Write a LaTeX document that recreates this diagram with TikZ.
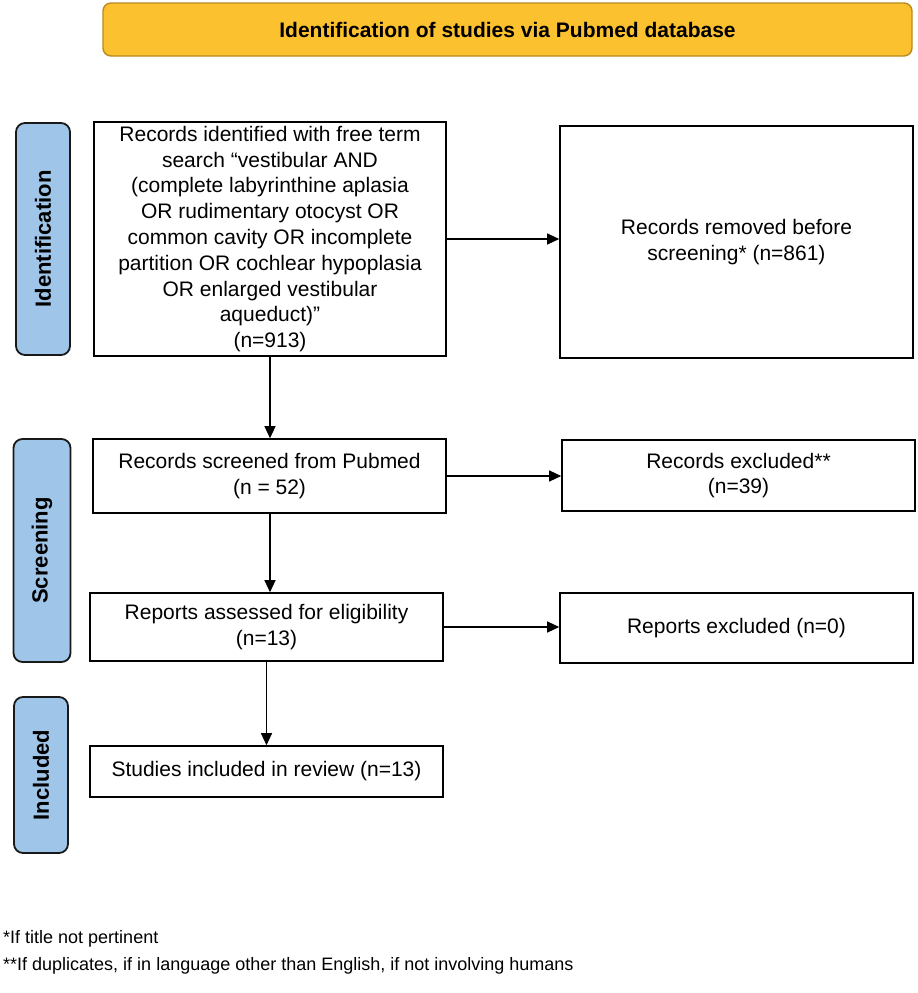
\documentclass[tikz,border=0pt]{standalone}
\usepackage{fontspec}
\setmainfont{Liberation Sans}
\usetikzlibrary{arrows.meta,positioning}
\definecolor{titlefill}{HTML}{FBC12E}
\definecolor{titledraw}{HTML}{B98A1E}
\definecolor{sidefill}{HTML}{9FC5E8}
\tikzset{
  flowbox/.style={draw=black, line width=1.6pt, fill=white, align=center, inner sep=2pt,
    font=\fontsize{21}{25.8}\selectfont},
  sidebox/.style={draw=black!90, line width=1.8pt, fill=sidefill, rounded corners=9pt,
    rotate=90, inner sep=0pt, font=\bfseries\fontsize{22}{25}\selectfont},
  titlebox/.style={draw=titledraw, line width=1.4pt, fill=titlefill, rounded corners=8pt,
    inner sep=0pt, font=\bfseries\fontsize{21}{25}\selectfont},
  conn/.style={line width=1.2pt, -{Triangle[length=12pt,width=11pt]}},
  foot/.style={anchor=base west, inner sep=0pt, font=\fontsize{18}{21}\selectfont}
}
\begin{document}
\begin{tikzpicture}[x=1pt,y=-1pt]
\useasboundingbox (0,0) rectangle (918,993);
% title
\node[titlebox, minimum width=809pt, minimum height=53pt] (title) at (507.5,29.5)
  {Identification of studies via Pubmed database};
% side labels
\node[sidebox, minimum width=232pt, minimum height=54pt] (sidI) at (43,239) {Identification};
\node[sidebox, minimum width=223pt, minimum height=57pt] (sidS) at (42,550.5) {Screening};
\node[sidebox, minimum width=156pt, minimum height=54pt] (sidN) at (41,775) {Included};
% boxes
\node[flowbox, minimum width=352pt, minimum height=234pt] (rec) at (270,239)
  {Records identified with free term\\ search “vestibular AND\\ (complete labyrinthine aplasia\\ OR rudimentary otocyst OR\\ common cavity OR incomplete\\ partition OR cochlear hypoplasia\\ OR enlarged vestibular\\ aqueduct)”\\ (n=913)};
\node[flowbox, minimum width=353pt, minimum height=232pt] (rem) at (736.5,242)
  {Records removed before\\ screening* (n=861)};
\node[flowbox, minimum width=353pt, minimum height=74pt] (scr) at (269.5,476)
  {Records screened from Pubmed\\ (n = 52)};
\node[flowbox, minimum width=353pt, minimum height=71pt] (exc) at (738.5,475.5)
  {Records excluded**\\ (n=39)};
\node[flowbox, minimum width=353pt, minimum height=68pt] (ass) at (266.5,627)
  {Reports assessed for eligibility\\ (n=13)};
\node[flowbox, minimum width=353pt, minimum height=70pt] (rex) at (736.5,628)
  {Reports excluded (n=0)};
\node[flowbox, minimum width=353pt, minimum height=51pt] (inc) at (266.5,771.5)
  {Studies included in review (n=13)};
% connectors
\draw[conn] (rec.east) -- (rec.east -| rem.west);
\draw[conn] (rec.south) -- (rec.south |- scr.north);
\draw[conn] (scr.east) -- (scr.east -| exc.west);
\coordinate (s1) at ([xshift=0.5pt]scr.south);
\draw[conn] (s1) -- (s1 |- ass.north);
\draw[conn] (ass.east) -- (ass.east -| rex.west);
\draw[conn] (ass.south) -- (ass.south |- inc.north);
% footnotes
\node[foot] (f1) at (3,943) {*If title not pertinent};
\node[foot] (f2) at (3,970) {**If duplicates, if in language other than English, if not involving humans};
\end{tikzpicture}
\end{document}
